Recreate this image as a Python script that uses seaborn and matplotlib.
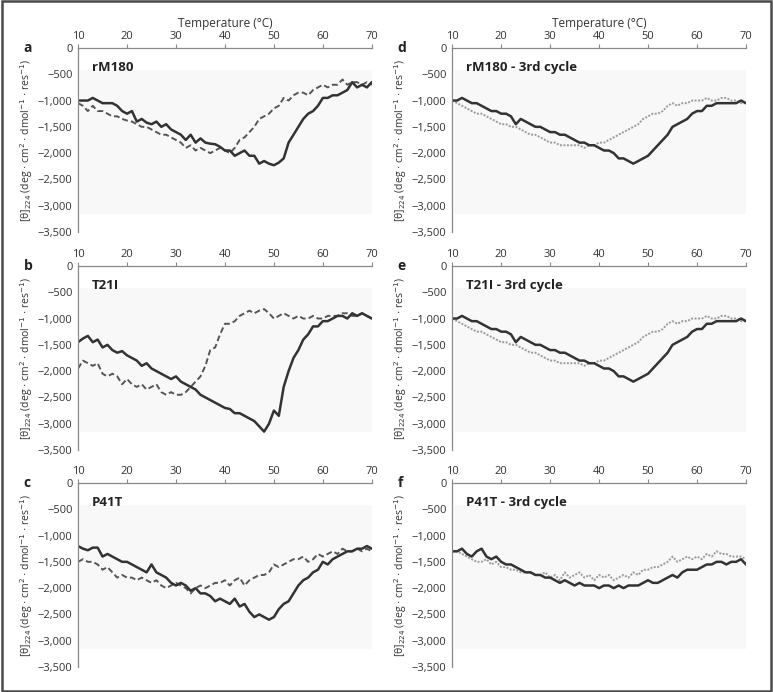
import numpy as np
import pandas as pd
import matplotlib
matplotlib.use("Agg")
import matplotlib.pyplot as plt
import seaborn as sns
from matplotlib.ticker import FuncFormatter

# temperatura (°C), passo de 1 grau
temp = list(range(10, 71))

# painel a - rM180
a_solid = [-1000, -1000, -1000, -950, -1000, -1050, -1050, -1050, -1100, -1200, -1250, -1200, -1400, -1350, -1420, -1450,
           -1400, -1500, -1450, -1550, -1600, -1650, -1750, -1650, -1800, -1720, -1800, -1820, -1830, -1880, -1950, -1950,
           -2050, -2000, -1950, -2050, -2050, -2200, -2150, -2200, -2230, -2180, -2100, -1800, -1650, -1500, -1350, -1250,
           -1200, -1100, -950, -950, -900, -900, -850, -800, -650, -750, -700, -750, -650]
a_dash = [-1050, -1100, -1200, -1100, -1200, -1200, -1250, -1300, -1300, -1350, -1380, -1400, -1450, -1500, -1500, -1550,
          -1600, -1650, -1650, -1700, -1750, -1800, -1900, -1850, -1950, -1900, -1950, -2000, -1950, -1900, -1950, -2000,
          -1900, -1750, -1700, -1600, -1500, -1350, -1300, -1250, -1150, -1100, -950, -1000, -900, -850, -850, -900,
          -800, -750, -700, -750, -700, -700, -600, -700, -650, -650, -700, -650, -700]

# painel b - T21I
b_solid = [-1450, -1380, -1330, -1450, -1400, -1550, -1500, -1600, -1650, -1620, -1700, -1750, -1800, -1900, -1850, -1950,
           -2000, -2050, -2100, -2150, -2100, -2200, -2250, -2300, -2350, -2450, -2500, -2550, -2600, -2650, -2700, -2720,
           -2800, -2800, -2850, -2900, -2950, -3050, -3150, -3000, -2750, -2850, -2300, -2000, -1750, -1600, -1400, -1300,
           -1150, -1150, -1050, -1050, -1000, -950, -950, -1000, -900, -950, -900, -950, -1000]
b_dash = [-1950, -1800, -1850, -1900, -1850, -2050, -2100, -2050, -2100, -2250, -2150, -2250, -2300, -2250, -2350, -2300,
          -2250, -2400, -2450, -2400, -2450, -2450, -2400, -2300, -2200, -2100, -1900, -1600, -1550, -1300, -1100, -1100,
          -1050, -950, -900, -850, -900, -850, -820, -900, -1000, -950, -900, -950, -1000, -950, -1000, -1000,
          -950, -1000, -1000, -950, -950, -950, -900, -900, -950, -950, -900, -950, -1000]

# painel c - P41T
c_solid = [-1200, -1250, -1280, -1230, -1230, -1400, -1350, -1400, -1450, -1500, -1500, -1550, -1600, -1650, -1700, -1550,
           -1700, -1750, -1800, -1900, -1950, -1900, -1950, -2050, -2000, -2100, -2100, -2150, -2250, -2200, -2250, -2300,
           -2200, -2350, -2300, -2450, -2550, -2500, -2550, -2600, -2550, -2400, -2300, -2250, -2100, -1950, -1850, -1800,
           -1700, -1650, -1500, -1550, -1450, -1400, -1350, -1300, -1300, -1250, -1250, -1200, -1250]
c_dash = [-1500, -1450, -1500, -1500, -1550, -1650, -1600, -1700, -1800, -1750, -1800, -1800, -1850, -1800, -1850, -1900,
          -1850, -1950, -2000, -1950, -1900, -1950, -2000, -2100, -2000, -1950, -2000, -1950, -1900, -1900, -1850, -1950,
          -1850, -1800, -1950, -1850, -1800, -1750, -1750, -1700, -1550, -1600, -1550, -1500, -1450, -1450, -1400, -1500,
          -1450, -1350, -1400, -1350, -1300, -1350, -1250, -1300, -1300, -1250, -1300, -1250, -1300]

# painel d - rM180 3o ciclo
d_solid = [-1000, -1000, -950, -1000, -1050, -1050, -1100, -1150, -1200, -1200, -1250, -1250, -1300, -1450, -1350, -1400,
           -1450, -1500, -1500, -1550, -1600, -1600, -1650, -1650, -1700, -1750, -1800, -1800, -1850, -1850, -1900, -1950,
           -1950, -2000, -2100, -2100, -2150, -2200, -2150, -2100, -2050, -1950, -1850, -1750, -1650, -1500, -1450, -1400,
           -1350, -1250, -1200, -1200, -1100, -1100, -1050, -1050, -1050, -1050, -1050, -1000, -1050]
d_dot = [-1000, -1050, -1100, -1150, -1200, -1250, -1250, -1300, -1350, -1400, -1450, -1450, -1500, -1500, -1550, -1600,
         -1650, -1650, -1700, -1750, -1800, -1800, -1850, -1850, -1850, -1850, -1850, -1900, -1850, -1850, -1800, -1800,
         -1750, -1700, -1650, -1600, -1550, -1500, -1450, -1350, -1300, -1250, -1250, -1200, -1100, -1050, -1100, -1050,
         -1050, -1000, -1000, -1000, -950, -1000, -1000, -950, -950, -1000, -1000, -1050, -1050]

# painel e - T21I 3o ciclo
e_solid = [-1000, -1000, -950, -1000, -1050, -1050, -1100, -1150, -1200, -1200, -1250, -1250, -1300, -1450, -1350, -1400,
           -1450, -1500, -1500, -1550, -1600, -1600, -1650, -1650, -1700, -1750, -1800, -1800, -1850, -1850, -1900, -1950,
           -1950, -2000, -2100, -2100, -2150, -2200, -2150, -2100, -2050, -1950, -1850, -1750, -1650, -1500, -1450, -1400,
           -1350, -1250, -1200, -1200, -1100, -1100, -1050, -1050, -1050, -1050, -1050, -1000, -1050]
e_dot = [-1000, -1050, -1100, -1150, -1200, -1250, -1250, -1300, -1350, -1400, -1450, -1450, -1500, -1500, -1550, -1600,
         -1650, -1650, -1700, -1750, -1800, -1800, -1850, -1850, -1850, -1850, -1850, -1900, -1850, -1850, -1800, -1800,
         -1750, -1700, -1650, -1600, -1550, -1500, -1450, -1350, -1300, -1250, -1250, -1200, -1100, -1050, -1100, -1050,
         -1050, -1000, -1000, -1000, -950, -1000, -1000, -950, -950, -1000, -1000, -1050, -1050]

# painel f - P41T 3o ciclo
f_solid = [-1300, -1300, -1250, -1350, -1400, -1300, -1250, -1400, -1450, -1400, -1500, -1550, -1550, -1600, -1650, -1700,
           -1700, -1750, -1750, -1800, -1800, -1850, -1900, -1850, -1900, -1950, -1900, -1950, -1950, -1950, -2000, -1950,
           -1950, -2000, -1950, -2000, -1950, -1950, -1950, -1900, -1850, -1900, -1900, -1850, -1800, -1750, -1800, -1700,
           -1650, -1650, -1650, -1600, -1550, -1550, -1500, -1500, -1550, -1500, -1500, -1450, -1550]
f_dot = [-1300, -1300, -1350, -1400, -1450, -1500, -1500, -1450, -1550, -1500, -1600, -1600, -1650, -1650, -1700, -1700,
         -1700, -1750, -1750, -1700, -1800, -1750, -1850, -1700, -1800, -1750, -1700, -1800, -1750, -1850, -1750, -1800,
         -1750, -1850, -1800, -1750, -1800, -1700, -1750, -1650, -1650, -1600, -1600, -1550, -1500, -1400, -1500, -1450,
         -1400, -1450, -1400, -1450, -1350, -1400, -1300, -1350, -1350, -1400, -1400, -1400, -1450]

paineis = [
    ('a', 'rM180', a_solid, a_dash, 'dash'),
    ('d', 'rM180 - 3rd cycle', d_solid, d_dot, 'dot'),
    ('b', 'T21I', b_solid, b_dash, 'dash'),
    ('e', 'T21I - 3rd cycle', e_solid, e_dot, 'dot'),
    ('c', 'P41T', c_solid, c_dash, 'dash'),
    ('f', 'P41T - 3rd cycle', f_solid, f_dot, 'dot'),
]

sns.set_style('white')
plt.rcParams['font.family'] = ['Open Sans', 'DejaVu Sans']
plt.rcParams['mathtext.fontset'] = 'dejavusans'

fig = plt.figure(figsize=(7.73, 6.92), dpi=100)

# moldura em volta da figura
fig.patches.append(plt.Rectangle((0.002, 0.002), 0.996, 0.996, transform=fig.transFigure,
                                 fill=False, edgecolor='#4a4a4a', linewidth=1.8))

col_x = [0.101, 0.585]
row_y = [0.6647, 0.3497, 0.0361]
larg, alt = 0.380, 0.266

fmt = FuncFormatter(lambda v, p: '0' if v == 0 else '\u2212{:,}'.format(int(abs(v))))
ylab = '[\u03b8]$_{224}$ (deg $\\cdot$ cm$^{2}$ $\\cdot$ dmol$^{-1}$ $\\cdot$ res$^{-1}$)'

for i, (letra, titulo, solido, outro, estilo) in enumerate(paineis):
    lin, col = divmod(i, 2)
    ax = fig.add_axes([col_x[col], row_y[lin], larg, alt])

    # fundo cinza bem claro
    ax.fill_between([10.4, 70], -3150, -420, color='#f8f8f8', zorder=0, linewidth=0)

    df = pd.DataFrame({'temp': temp, 'solido': solido, 'outro': outro})
    if estilo == 'dash':
        sns.lineplot(data=df, x='temp', y='outro', ax=ax, color='#555555', linewidth=1.4,
                     linestyle=(0, (3, 1.6)))
    else:
        sns.lineplot(data=df, x='temp', y='outro', ax=ax, color='#9a9a9a', linewidth=1.4,
                     linestyle=(0, (1, 0.8)))
    sns.lineplot(data=df, x='temp', y='solido', ax=ax, color='#333333', linewidth=1.8)

    ax.set_xlim(10, 70)
    ax.set_ylim(-3500, 0)
    ax.set_xticks(range(10, 71, 10))
    ax.set_yticks(range(-3500, 1, 500))
    ax.yaxis.set_major_formatter(fmt)
    ax.xaxis.tick_top()
    ax.xaxis.set_label_position('top')
    ax.tick_params(axis='both', direction='out', length=3, width=0.8, colors='#888888',
                   labelcolor='#333333', labelsize=8, pad=1)
    ax.set_facecolor('white')
    for s in ['right', 'bottom']:
        ax.spines[s].set_visible(False)
    for s in ['left', 'top']:
        ax.spines[s].set_color('#888888')
        ax.spines[s].set_linewidth(0.9)

    ax.set_xlabel('Temperature (\u00b0C)' if lin == 0 else '', fontsize=8.5, color='#333333', labelpad=3)
    ax.set_ylabel(ylab, fontsize=7.5, color='#333333', labelpad=2)

    ax.text(12.8, -380, titulo, fontsize=9.5, fontweight='bold', color='#222222', va='center')
    ax.text(-0.185, 1.0, letra, transform=ax.transAxes, fontsize=10, fontweight='bold',
            color='#222222', va='center', ha='left')

fig.savefig('out.png', dpi=100)
